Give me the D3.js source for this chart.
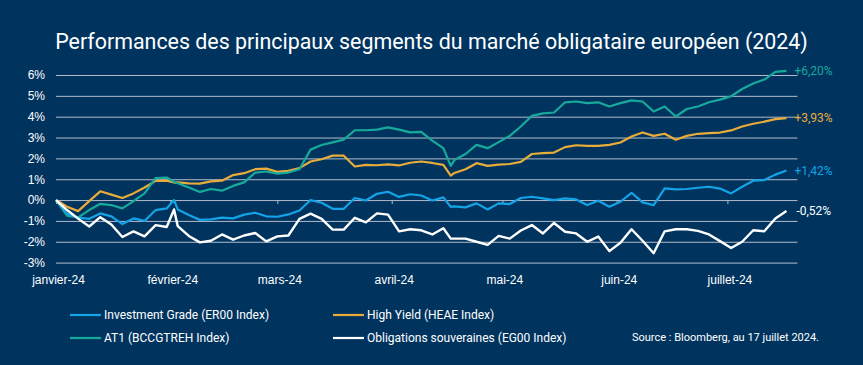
<!DOCTYPE html>
<html><head><meta charset="utf-8">
<script src="https://cdn.jsdelivr.net/npm/d3@7"></script>
<style>
html,body{margin:0;padding:0;background:#00345f;}
svg{display:block;font-family:Roboto,"Noto Sans",sans-serif;}
</style></head><body>
<svg id="c" width="863" height="365"></svg>
<script>
const dates = ["2024-01-01","2024-01-04","2024-01-07","2024-01-10","2024-01-13","2024-01-16","2024-01-19","2024-01-22","2024-01-25","2024-01-28","2024-01-31",
"2024-02-02","2024-02-03","2024-02-06","2024-02-09","2024-02-12","2024-02-15","2024-02-18","2024-02-21","2024-02-24","2024-02-27",
"2024-03-01","2024-03-04","2024-03-07","2024-03-10","2024-03-13","2024-03-16","2024-03-19","2024-03-22","2024-03-25","2024-03-28","2024-03-31",
"2024-04-03","2024-04-06","2024-04-09","2024-04-12","2024-04-15","2024-04-17","2024-04-18","2024-04-21","2024-04-24","2024-04-27","2024-04-30",
"2024-05-03","2024-05-06","2024-05-09","2024-05-12","2024-05-15","2024-05-18","2024-05-21","2024-05-24","2024-05-27","2024-05-30",
"2024-06-02","2024-06-05","2024-06-08","2024-06-11","2024-06-14","2024-06-17","2024-06-20","2024-06-23","2024-06-26","2024-06-29",
"2024-07-02","2024-07-05","2024-07-08","2024-07-11","2024-07-14","2024-07-17"];

const investmentGrade = [0,-0.65,-0.84,-0.9,-0.64,-0.78,-1.15,-0.88,-1.0,-0.48,-0.4,
0.0,-0.45,-0.72,-0.95,-0.93,-0.84,-0.88,-0.7,-0.61,-0.78,
-0.8,-0.69,-0.5,0.0,-0.13,-0.42,-0.42,0.1,-0.02,0.3,0.4,
0.15,0.28,0.22,-0.02,0.13,-0.33,-0.3,-0.35,-0.16,-0.45,-0.16,
-0.19,0.1,0.16,0.08,0.0,0.08,0.03,-0.24,-0.03,-0.32,
-0.08,0.35,-0.11,-0.24,0.56,0.51,0.53,0.59,0.64,0.55,
0.32,0.64,0.93,0.96,1.22,1.42];

const highYield = [0,-0.32,-0.53,-0.05,0.42,0.26,0.1,0.32,0.6,0.92,0.93,
0.84,0.85,0.8,0.79,0.9,0.93,1.2,1.29,1.48,1.51,
1.35,1.4,1.53,1.85,1.96,2.13,2.13,1.61,1.69,1.67,1.71,
1.66,1.79,1.85,1.78,1.69,1.17,1.3,1.48,1.77,1.64,1.7,
1.73,1.83,2.21,2.25,2.28,2.54,2.63,2.6,2.6,2.65,
2.76,3.05,3.24,3.08,3.18,2.89,3.08,3.18,3.21,3.24,
3.34,3.53,3.66,3.76,3.88,3.93];

const at1 = [0,-0.75,-0.83,-0.48,-0.18,-0.24,-0.4,-0.05,0.32,1.05,1.08,
0.88,0.81,0.6,0.39,0.53,0.45,0.68,0.85,1.32,1.37,
1.27,1.32,1.48,2.42,2.64,2.77,2.9,3.35,3.35,3.38,3.49,
3.38,3.25,3.27,2.85,2.49,1.64,1.92,2.21,2.65,2.49,2.78,
3.08,3.53,4.04,4.16,4.2,4.69,4.73,4.65,4.69,4.49,
4.65,4.78,4.73,4.25,4.49,4.01,4.37,4.49,4.69,4.82,
4.98,5.33,5.59,5.78,6.15,6.2];

const souveraines = [0,-0.48,-0.89,-1.27,-0.82,-1.17,-1.77,-1.5,-1.74,-1.2,-1.29,
-0.45,-1.25,-1.72,-2.03,-1.95,-1.65,-1.9,-1.7,-1.58,-1.98,
-1.74,-1.7,-0.9,-0.65,-0.9,-1.42,-1.42,-0.85,-1.07,-0.64,-0.7,
-1.5,-1.4,-1.45,-1.65,-1.35,-1.85,-1.85,-1.85,-2.0,-2.15,-1.72,
-1.85,-1.46,-1.2,-1.6,-1.1,-1.52,-1.6,-2.0,-1.75,-2.45,
-2.05,-1.4,-1.95,-2.55,-1.5,-1.4,-1.4,-1.48,-1.65,-1.97,
-2.3,-2.0,-1.45,-1.5,-0.88,-0.52];

const seriesNames = ["High Yield (HEAE Index)","AT1 (BCCGTREH Index)","Investment Grade (ER00 Index)","Obligations souveraines (EG00 Index)"];
const seriesColors = ["#e8ac3b","#17a99b","#14a3e6","#ffffff"];
const endLabels = ["+3,93%","+6,20%","+1,42%","-0,52%"];
const yTicks = [-3,-2,-1,0,1,2,3,4,5,6];
const monthStarts = ["2024-01-01","2024-02-01","2024-03-01","2024-04-01","2024-05-01","2024-06-01","2024-07-01"];
const monthLabels = ["janvier-24","février-24","mars-24","avril-24","mai-24","juin-24","juillet-24"];
const title = "Performances des principaux segments du marché obligataire européen (2024)";
const source = "Source : Bloomberg, au 17 juillet 2024.";

const parse = d3.timeParse("%Y-%m-%d");
const svg = d3.select("#c");
const left = 56, right = 797.5;
const x = d3.scaleTime().domain([parse("2024-01-01"), parse("2024-07-20")]).range([left, right]);
const y = d3.scaleLinear().domain([-3, 6]).range([262.6, 75]);

svg.append("text").attr("x", 431.5).attr("y", 49).attr("text-anchor","middle")
  .attr("fill","#fff").attr("font-size",21.4).text(title);

// y axis with gridlines
const ya = svg.append("g").attr("transform",`translate(${left},0)`)
  .call(d3.axisLeft(y).tickValues(yTicks).tickSize(-(right-left)).tickPadding(11).tickFormat(d => d + "%"));
ya.select(".domain").remove();
ya.selectAll(".tick line").attr("stroke","#b3bccb").attr("stroke-width",1);
ya.selectAll(".tick text").attr("fill","#fff").attr("font-size",12).attr("font-weight",500);

// month ticks on zero line
const xt = svg.append("g").attr("transform",`translate(0,${y(0)})`)
  .call(d3.axisBottom(x).tickValues(monthStarts.map(parse)).tickSize(4).tickFormat(""));
xt.select(".domain").remove();
xt.selectAll(".tick line").attr("stroke","#b3bccb");

// month labels
const xl = svg.append("g").attr("transform",`translate(2,272)`)
  .call(d3.axisBottom(x).tickValues(monthStarts.map(parse)).tickSize(0).tickFormat((d,i) => monthLabels[i]));
xl.select(".domain").remove();
xl.selectAll(".tick text").attr("fill","#fff").attr("font-size",12).attr("font-weight",500);

const all = [highYield, at1, investmentGrade, souveraines];
const line = d3.line().x((d,i) => x(parse(dates[i]))).y(d => y(d));
all.forEach((s, k) => {
  svg.append("path").datum(s).attr("d", line).attr("fill","none")
    .attr("stroke", seriesColors[k]).attr("stroke-width", k===3 ? 2.4 : 2.2)
    .attr("stroke-linejoin","round");
  svg.append("text").attr("x", x(parse(dates[dates.length-1])) + (k===3 ? 10 : 8))
    .attr("y", y(s[s.length-1])).attr("dy","0.35em")
    .attr("fill", seriesColors[k]).attr("font-size",12).text(endLabels[k]);
});

// legend
const legendOrder = [2,0,1,3];
const legPos = [[70,315],[333,315],[70,338],[333,338]];
legendOrder.forEach((k, j) => {
  const [lx, ly] = legPos[j];
  svg.append("line").attr("x1",lx).attr("x2",lx+31).attr("y1",ly).attr("y2",ly)
    .attr("stroke",seriesColors[k]).attr("stroke-width",2.2);
  svg.append("text").attr("x",lx+34).attr("y",ly).attr("dy","0.35em")
    .attr("fill","#fff").attr("font-size",12).text(seriesNames[k]);
});
svg.append("text").attr("x",632).attr("y",337).attr("dy","0.35em")
  .attr("fill","#fff").attr("font-size",11).text(source);
</script>
</body></html>
